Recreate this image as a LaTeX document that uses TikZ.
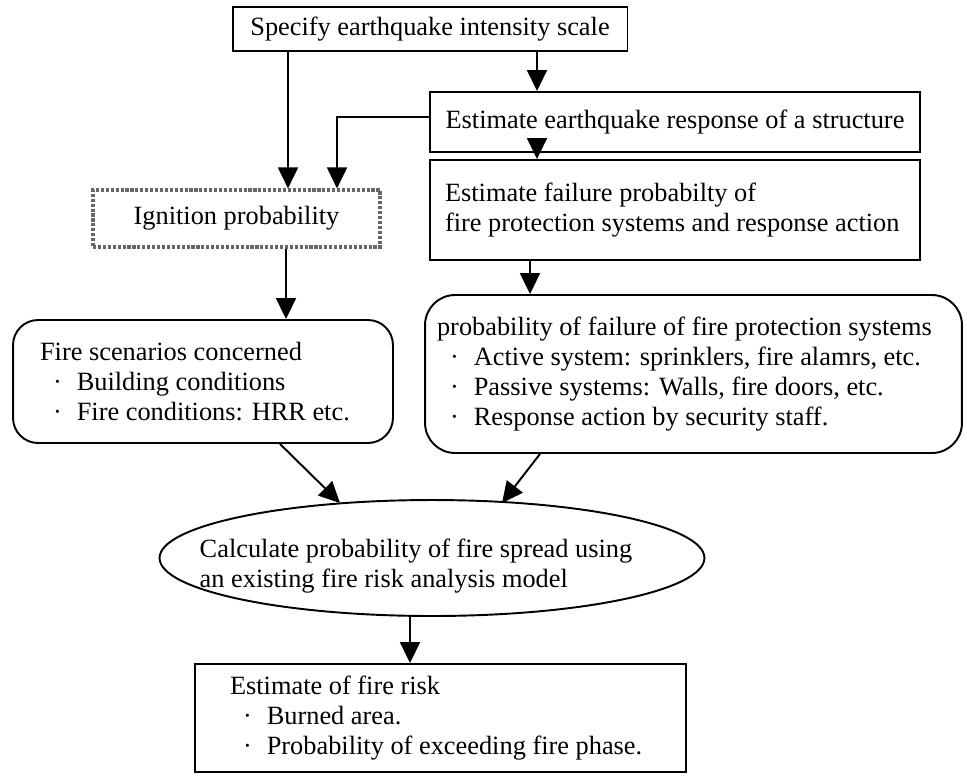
\documentclass[tikz,border=0pt]{standalone}
\usepackage{fontspec}
\setmainfont{Liberation Serif}
\usetikzlibrary{arrows.meta,shapes.geometric}
\tikzset{
	box/.style={draw, line width=1.1pt, fill=white, inner ysep=0pt,
		font=\fontsize{15}{17}\selectfont},
	lbox/.style={box, align=flush left},
	rbox/.style={lbox, rounded corners=#1},
	ibox/.style={box, draw=black!60, line width=1.8pt, densely dotted},
	flow/.style={line width=1.1pt, -{Triangle[width=0.4cm,length=0.42cm]}},
}
\newcommand{\bul}{\hspace*{0.26cm}\textperiodcentered\hspace{0.3cm}}

\begin{document}
\begin{tikzpicture}[x=0.02cm,y=-0.02cm]
\useasboundingbox (0,0) rectangle (967,775);
\node[box, minimum width=7.9cm, minimum height=0.88cm] (spec) at (430,29) {Specify earthquake intensity scale};
\node[box, minimum width=9.8cm, minimum height=1.2cm] (resp) at (675,122) {Estimate earthquake response of a structure};
\node[ibox, minimum width=5.74cm, minimum height=1.14cm] (ign) at (236.5,218.5) {Ignition probability};
\node[lbox, minimum height=2cm, inner xsep=0.3cm, text width=9.2cm] (fail) at (675,210)
	{Estimate failure probabilty of\\fire protection systems and response action};
\node[rbox=0.5cm, minimum height=2.46cm, inner xsep=0.54cm, text width=6.52cm] (scen) at (203,381.5)
	{Fire scenarios concerned\\\bul Building conditions\\\bul Fire conditions: HRR etc.};
\node[rbox=0.6cm, minimum height=3.16cm, inner xsep=0.24cm, text width=10.26cm] (pfail) at (693.5,374)
	{probability of failure of fire protection systems\\
	\bul Active system: sprinklers, fire alamrs, etc.\\
	\bul Passive systems: Walls, fire doors, etc.\\
	\bul Response action by security staff.};
\node[ellipse, draw, line width=1.1pt, minimum width=10.9cm, minimum height=2.32cm] (calc) at (432,558) {};
\node[align=left, font=\fontsize{15}{17}\selectfont] (calctxt) at (416,566)
	{Calculate probability of fire spread using\\an existing fire risk analysis model};
\node[lbox, minimum height=2.16cm, inner xsep=0.7cm, text width=8.42cm] (risk) at (440.5,718)
	{Estimate of fire risk\\\bul Burned area.\\\bul Probability of exceeding fire phase.};

\coordinate (lx) at (288,0);
\coordinate (rx) at (537,0);
\coordinate (ex) at (337,117);
\coordinate (ix) at (286,0);
\coordinate (fx) at (530,0);
\coordinate (s1) at (280,0);
\coordinate (t1) at (340,503);
\coordinate (s2) at (540,0);
\coordinate (t2) at (502,503);
\coordinate (cx) at (410,0);

\draw[flow] (spec.south -| lx) -- (ign.north -| lx);
\draw[flow] (spec.south -| rx) -- (resp.north -| rx);
\draw[flow] (resp.west |- ex) -- (ex) -- (ign.north -| ex);
\draw[flow] (resp.south -| rx) -- (fail.north -| rx);
\draw[flow] (ign.south -| ix) -- (scen.north -| ix);
\draw[flow] (fail.south -| fx) -- (pfail.north -| fx);
\draw[flow] (scen.south -| s1) -- (t1);
\draw[flow] (pfail.south -| s2) -- (t2);
\draw[flow] (calc.south -| cx) -- (risk.north -| cx);
\end{tikzpicture}
\end{document}
